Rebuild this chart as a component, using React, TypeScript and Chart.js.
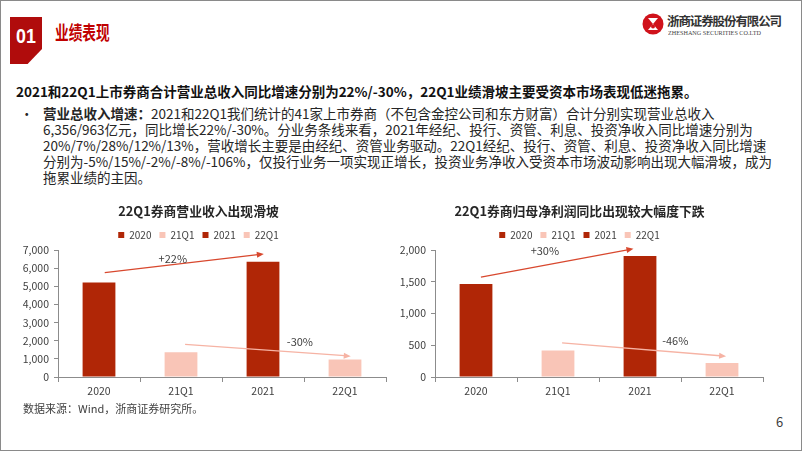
import React, { useEffect, useRef } from "react";
import { Chart, registerables } from "chart.js";

Chart.register(...registerables);

// ---------- data ----------
const categories = ["2020", "21Q1", "2021", "22Q1"];
const revenueValues = [5210, 1360, 6356, 963];
const profitValues = [1465, 417, 1905, 222];
const revenueAxis = [0, 7000, 1000]; // min, max, step
const profitAxis = [0, 2000, 500];
const revenueChanges = ["+22%", "-30%"];
const profitChanges = ["+30%", "-46%"];

const DARK = "#B02606";
const LIGHT = "#F9C5B7";
const barColors = [DARK, LIGHT, DARK, LIGHT];
const FONT = '"Noto Sans CJK SC", "Noto Sans", sans-serif';
const AXIS = "#8c8c8c";
const TXT = "#404040";

type Arrow = { from: number[]; to: number[]; color: string; label: string; labelAt: number[] };

function BarChart(props: {
  values: number[];
  axis: number[];
  arrows: Arrow[];
  title: string;
  left: number;
  top: number;
  width: number;
  height: number;
  yWidth: number;
  plotTop: number;
  padRight: number;
}) {
  const ref = useRef<HTMLCanvasElement>(null);
  useEffect(() => {
    const arrows = props.arrows;
    const arrowPlugin = {
      id: "arrows",
      afterDatasetsDraw(chart: any) {
        const { ctx } = chart;
        const xs = chart.scales.x;
        const ys = chart.scales.y;
        ctx.save();
        for (const a of arrows) {
          const x1 = xs.getPixelForValue(a.from[0]);
          const y1 = ys.getPixelForValue(a.from[1]);
          const x2 = xs.getPixelForValue(a.to[0]);
          const y2 = ys.getPixelForValue(a.to[1]);
          ctx.strokeStyle = a.color;
          ctx.fillStyle = a.color;
          ctx.lineWidth = 1.3;
          const ang = Math.atan2(y2 - y1, x2 - x1);
          const L = 7;
          const W = 3;
          ctx.beginPath();
          ctx.moveTo(x1, y1);
          ctx.lineTo(x2 - (L - 1) * Math.cos(ang), y2 - (L - 1) * Math.sin(ang));
          ctx.stroke();
          ctx.beginPath();
          ctx.moveTo(x2, y2);
          ctx.lineTo(x2 - L * Math.cos(ang) + W * Math.sin(ang), y2 - L * Math.sin(ang) - W * Math.cos(ang));
          ctx.lineTo(x2 - L * Math.cos(ang) - W * Math.sin(ang), y2 - L * Math.sin(ang) + W * Math.cos(ang));
          ctx.closePath();
          ctx.fill();
          ctx.fillStyle = TXT;
          ctx.font = `11px ${FONT}`;
          ctx.textAlign = "center";
          ctx.textBaseline = "middle";
          ctx.fillText(a.label, xs.getPixelForValue(a.labelAt[0]), ys.getPixelForValue(a.labelAt[1]));
        }
        ctx.restore();
      },
    };
    const chart = new Chart(ref.current as HTMLCanvasElement, {
      type: "bar",
      data: {
        labels: categories,
        datasets: [
          {
            data: props.values,
            backgroundColor: barColors,
            borderWidth: 0,
            barPercentage: 1,
            categoryPercentage: 0.4,
          },
        ],
      },
      plugins: [arrowPlugin],
      options: {
        animation: false,
        responsive: false,
        events: [],
        layout: { padding: { left: 0, right: props.padRight, top: 0, bottom: 0 } },
        plugins: {
          title: {
            display: true,
            text: props.title,
            color: "#262626",
            font: { size: 12.8, weight: "bold", family: FONT },
            padding: { top: 8, bottom: 3.5 },
          },
          legend: {
            display: true,
            position: "top",
            labels: {
              boxWidth: 6,
              boxHeight: 6,
              padding: 8,
              color: TXT,
              font: { size: 10, family: FONT },
              generateLabels: () =>
                categories.map((c, i) => ({
                  text: c,
                  fillStyle: barColors[i],
                  strokeStyle: barColors[i],
                  lineWidth: 0,
                  hidden: false,
                  index: i,
                  datasetIndex: 0,
                  fontColor: TXT,
                })),
            },
          },
          tooltip: { enabled: false },
        },
        scales: {
          x: {
            offset: true,
            grid: { offset: true, drawOnChartArea: false, tickLength: 5, color: AXIS },
            border: { color: AXIS },
            ticks: { color: TXT, font: { size: 10.5, family: FONT }, padding: 3 },
            afterFit: (s: any) => {
              s.height = 24;
            },
          },
          y: {
            min: props.axis[0],
            max: props.axis[1],
            ticks: {
              stepSize: props.axis[2],
              color: TXT,
              font: { size: 10.5, family: FONT },
              padding: 5,
              callback: (v: any) => Number(v).toLocaleString("en-US"),
            },
            grid: { drawOnChartArea: false, tickLength: 4, color: AXIS },
            border: { color: AXIS },
            afterFit: (s: any) => {
              s.width = props.yWidth;
              s.paddingTop = props.plotTop;
            },
          },
        },
      } as any,
    });
    return () => chart.destroy();
  }, []);
  return (
    <canvas
      ref={ref}
      width={props.width}
      height={props.height}
      style={{ position: "absolute", left: props.left, top: props.top, width: props.width, height: props.height }}
    />
  );
}

const revenueArrows: Arrow[] = [
  { from: [0.07, 5750], to: [2.01, 6780], color: "#D8482E", label: revenueChanges[0], labelAt: [0.9, 6500] },
  { from: [1.05, 1800], to: [3.07, 1150], color: "#F6B3A4", label: revenueChanges[1], labelAt: [2.45, 1930] },
];
const profitArrows: Arrow[] = [
  { from: [0.06, 1574], to: [1.92, 2020], color: "#D8482E", label: profitChanges[0], labelAt: [0.84, 1984] },
  { from: [1.05, 537], to: [3.05, 327], color: "#F6B3A4", label: profitChanges[1], labelAt: [2.43, 564] },
];

const bodyLine: React.CSSProperties = {
  position: "absolute",
  left: 42,
  whiteSpace: "nowrap",
  fontSize: 13.5,
  lineHeight: "16px",
  color: "#262626",
};

export default function App() {
  return (
    <div
      style={{
        position: "absolute",
        left: 0,
        top: 0,
        width: 802,
        height: 451,
        boxSizing: "border-box",
        border: "1px solid #8a8a8a",
        background: "#fff",
        overflow: "hidden",
        fontFamily: FONT,
      }}
    >
      <style>{"body{margin:0}"}</style>
      {/* section block */}
      <div
        style={{
          position: "absolute",
          left: 9,
          top: 16,
          width: 32,
          height: 47,
          background: "#B00C0C",
          clipPath: "polygon(0 0, 100% 0, 100% 68%, 55% 100%, 0 100%)",
        }}
      />
      <div
        style={{
          position: "absolute",
          left: 9,
          top: 22,
          width: 32,
          textAlign: "center",
          color: "#fff",
          fontFamily: '"Liberation Sans", Arial, sans-serif',
          fontWeight: "bold",
          fontSize: 21,
          lineHeight: "26px",
          transform: "scaleX(0.85)",
        }}
      >
        01
      </div>
      <div
        style={{
          position: "absolute",
          left: 54,
          top: 19,
          color: "#C00000",
          fontWeight: "bold",
          fontSize: 19,
          lineHeight: "24px",
          whiteSpace: "nowrap",
          transform: "scaleX(0.72)",
          transformOrigin: "left center",
        }}
      >
        业绩表现
      </div>
      {/* logo */}
      <svg style={{ position: "absolute", left: 641, top: 12 }} width={22} height={22} viewBox="0 0 22 22">
        <circle cx={11} cy={11} r={10.5} fill="#D0121B" />
        <path d="M6 5 L16 5 L11 11 Z" fill="#fff" />
        <path d="M6 17 L16 17 L11 11 Z" fill="#fff" />
        <circle cx={11} cy={13.5} r={2} fill="#D0121B" />
      </svg>
      <div
        style={{
          position: "absolute",
          left: 666,
          top: 12,
          fontSize: 12.5,
          lineHeight: "16px",
          fontWeight: "bold",
          color: "#333",
          whiteSpace: "nowrap",
          letterSpacing: -1.1,
        }}
      >
        浙商证券股份有限公司
      </div>
      <div
        style={{
          position: "absolute",
          left: 667,
          top: 28,
          fontSize: 6.5,
          lineHeight: "8px",
          color: "#444",
          whiteSpace: "nowrap",
          fontFamily: '"Liberation Serif", serif',
          transform: "scaleX(0.95)",
          transformOrigin: "left center",
        }}
      >
        ZHESHANG SECURITIES CO.LTD
      </div>
      {/* headline */}
      <div
        style={{
          position: "absolute",
          left: 15,
          top: 80,
          fontSize: 13.5,
          lineHeight: "20px",
          fontWeight: "bold",
          color: "#111",
          whiteSpace: "nowrap",
        }}
      >
        2021和22Q1上市券商合计营业总收入同比增速分别为22%/-30%，22Q1业绩滑坡主要受资本市场表现低迷拖累。
      </div>
      <div style={{ ...bodyLine, left: 19, top: 104 }}>•</div>
      <div style={{ ...bodyLine, top: 104 }}>
        <b>营业总收入增速：</b>2021和22Q1我们统计的41家上市券商（不包含金控公司和东方财富）合计分别实现营业总收入
      </div>
      <div style={{ ...bodyLine, top: 120 }}>
        6,356/963亿元，同比增长22%/-30%。分业务条线来看，2021年经纪、投行、资管、利息、投资净收入同比增速分别为
      </div>
      <div style={{ ...bodyLine, top: 136 }}>
        20%/7%/28%/12%/13%，营收增长主要是由经纪、资管业务驱动。22Q1经纪、投行、资管、利息、投资净收入同比增速
      </div>
      <div style={{ ...bodyLine, top: 152 }}>
        分别为-5%/15%/-2%/-8%/-106%，仅投行业务一项实现正增长，投资业务净收入受资本市场波动影响出现大幅滑坡，成为
      </div>
      <div style={{ ...bodyLine, top: 168 }}>拖累业绩的主因。</div>
      {/* charts */}
      <BarChart
        values={revenueValues}
        axis={revenueAxis}
        arrows={revenueArrows}
        title="22Q1券商营业收入出现滑坡"
        left={10}
        top={190}
        width={385}
        height={210}
        yWidth={47}
        plotTop={59}
        padRight={10}
      />
      <BarChart
        values={profitValues}
        axis={profitAxis}
        arrows={profitArrows}
        title="22Q1券商归母净利润同比出现较大幅度下跌"
        left={395}
        top={190}
        width={375}
        height={210}
        yWidth={39}
        plotTop={59}
        padRight={8}
      />
      <div
        style={{
          position: "absolute",
          left: 22,
          top: 399,
          fontSize: 11,
          lineHeight: "16px",
          color: TXT,
          whiteSpace: "nowrap",
        }}
      >
        数据来源：Wind，浙商证券研究所。
      </div>
      <div
        style={{ position: "absolute", left: 775, top: 412, fontSize: 13, lineHeight: "18px", color: TXT }}
      >
        6
      </div>
    </div>
  );
}
